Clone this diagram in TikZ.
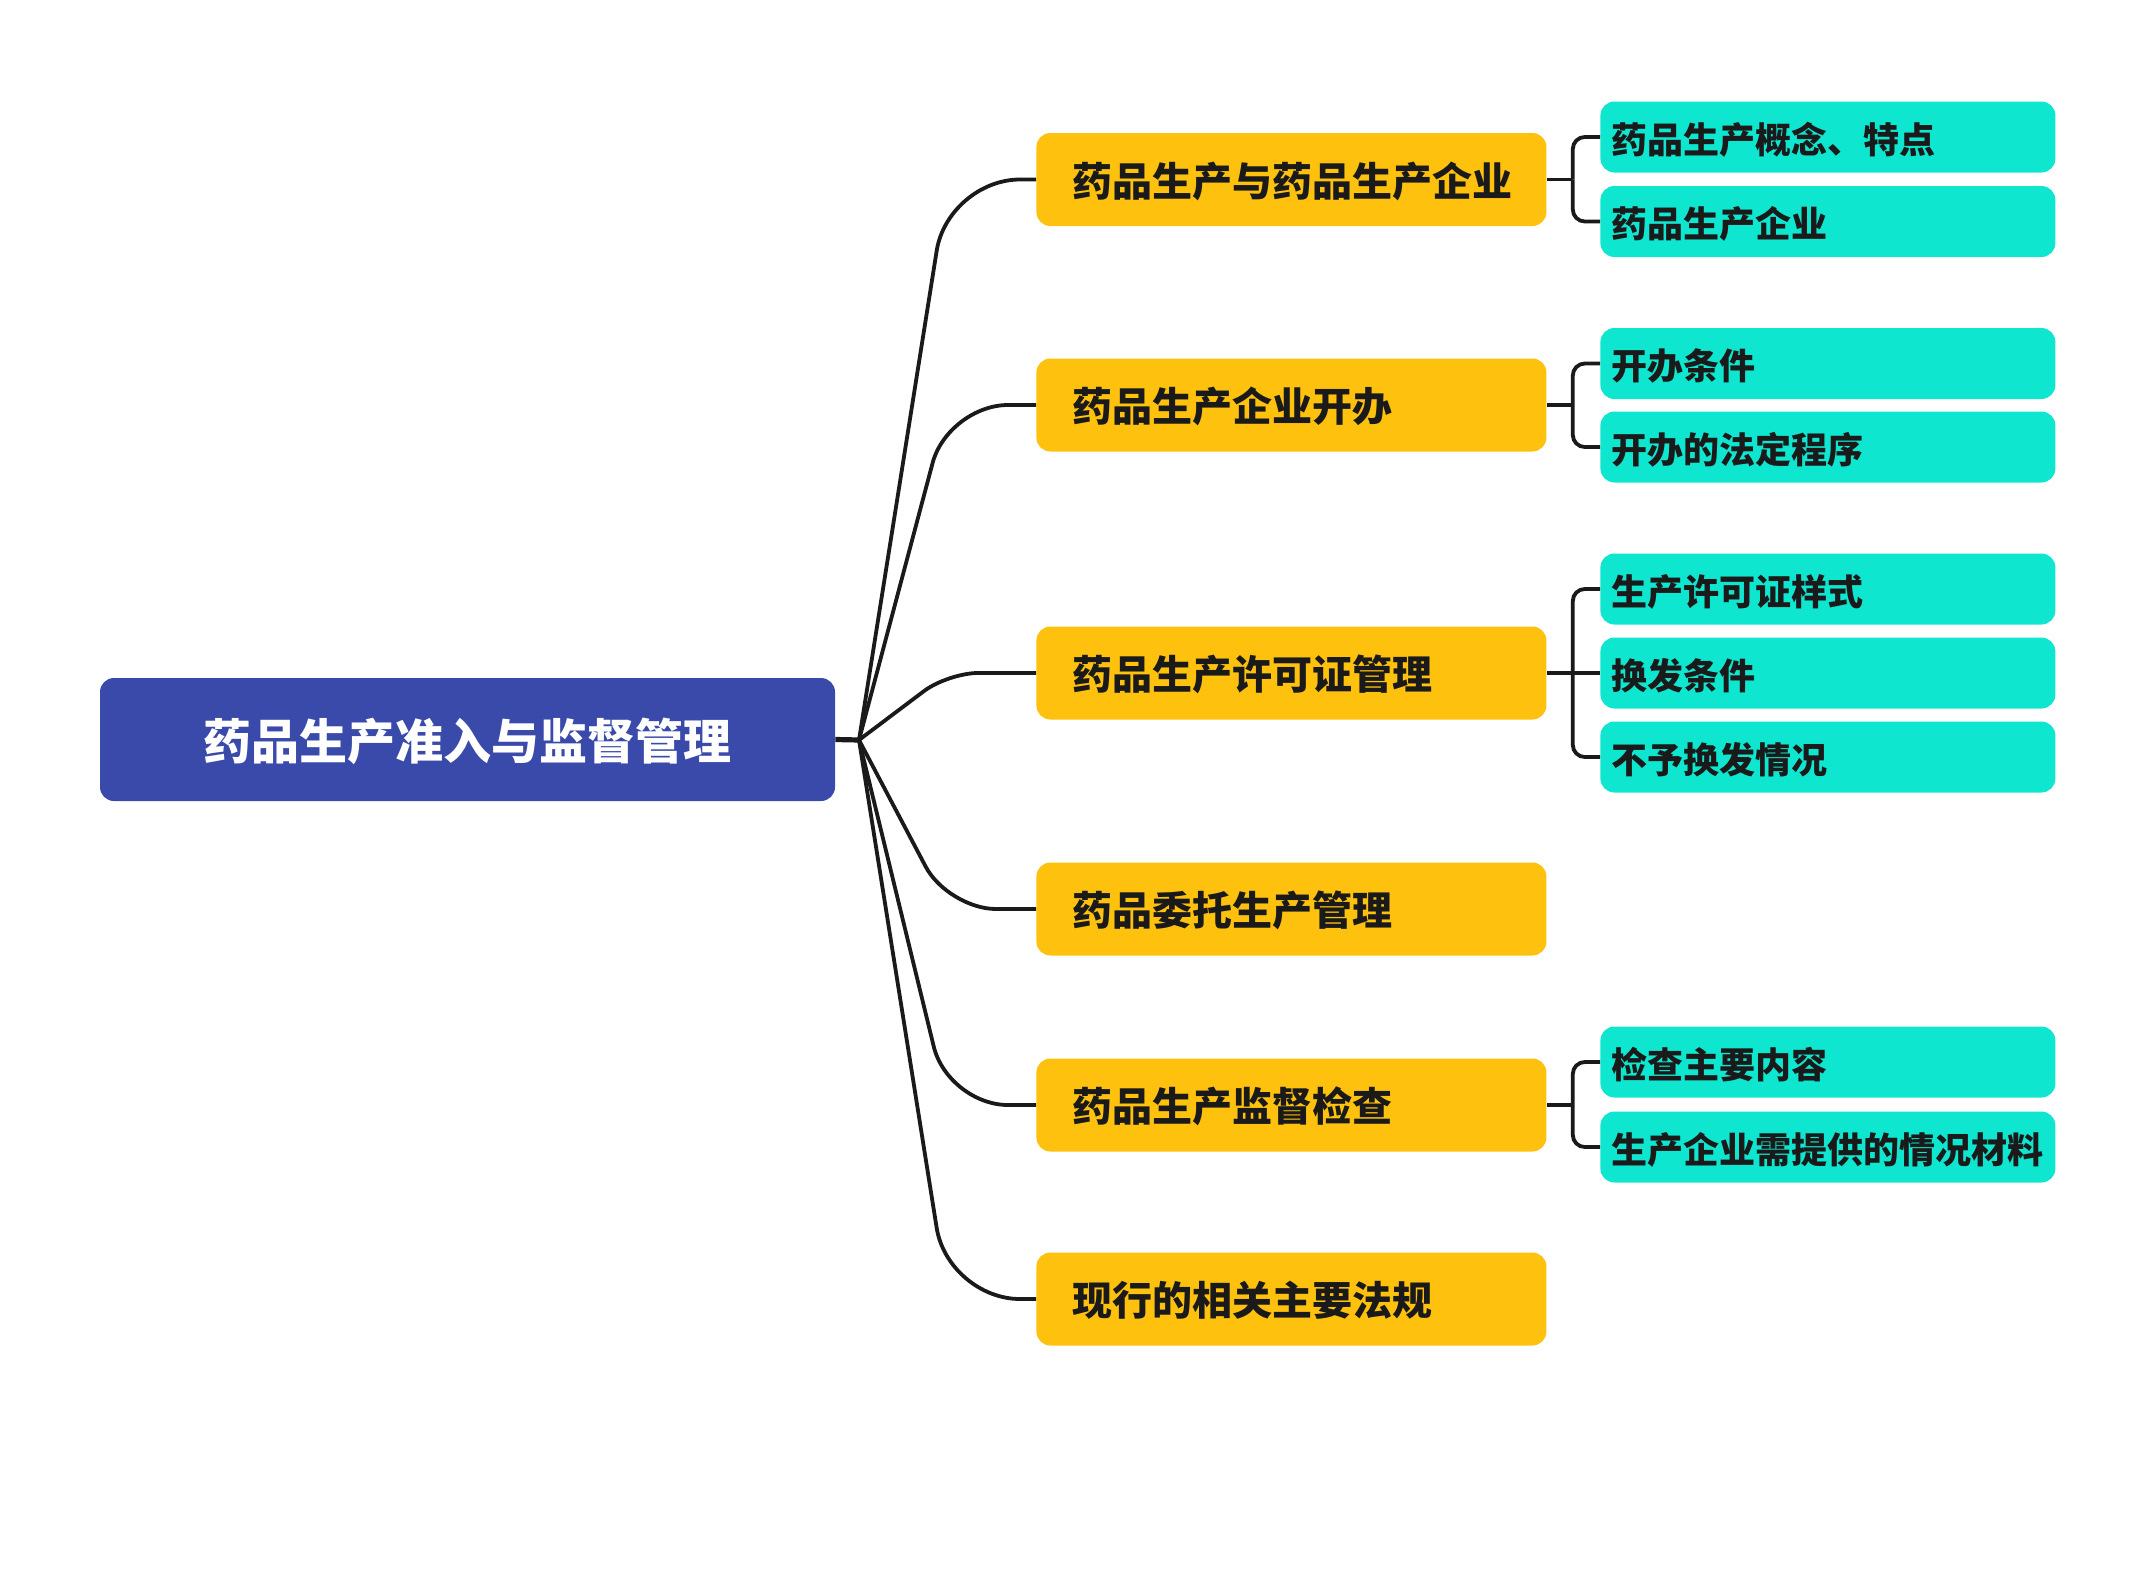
\documentclass[tikz,border=0pt]{standalone}
\usepackage{fontspec}
\setmainfont{Noto Sans CJK SC}
\usetikzlibrary{calc}
\definecolor{rootblue}{HTML}{3A4AAA}
\definecolor{yel}{HTML}{FEC10E}
\definecolor{tealbox}{HTML}{0FE6D0}
\definecolor{ink}{HTML}{1A1A1A}
\tikzset{
  rootnode/.style={fill=rootblue, rounded corners=7pt, minimum width=367.5pt, minimum height=61.5pt,
    inner sep=0pt, text=white, font=\bfseries\fontsize{24pt}{24pt}\selectfont,
    text height=22.6pt, text depth=2.9pt},
  lone/.style={fill=yel, rounded corners=7pt, anchor=west, minimum height=46.5pt,
    text width=219pt, inner xsep=18pt, inner ysep=0pt, align=left, text=ink,
    font=\bfseries\fontsize{20pt}{20pt}\selectfont, text height=19.1pt, text depth=2.4pt},
  ltwo/.style={fill=tealbox, rounded corners=7pt, anchor=west, minimum height=35.5pt,
    text width=216pt, inner xsep=5.75pt, inner ysep=0pt, align=left, text=ink,
    font=\bfseries\fontsize{18pt}{18pt}\selectfont, text height=18.3pt, text depth=2.2pt},
  conn/.style={draw=ink, line width=1.9pt},
  rootline/.style={draw=ink, line width=2.6pt},
}
\begin{document}
\begin{tikzpicture}[x=0.5pt,y=-0.5pt]
\useasboundingbox (0,0) rectangle (2144,1585);

\node[rootnode] (root) at (467.5,739.5) {药品生产准入与监督管理};

\node[lone] (n1) at (1036,179.5) {药品生产与药品生产企业};
\node[lone] (n2) at (1036,405) {药品生产企业开办};
\node[lone] (n3) at (1036,673) {药品生产许可证管理};
\node[lone] (n4) at (1036,909) {药品委托生产管理};
\node[lone] (n5) at (1036,1105) {药品生产监督检查};
\node[lone] (n6) at (1036,1299) {现行的相关主要法规};

\node[ltwo] (t11) at (1600,137) {药品生产概念、特点};
\node[ltwo] (t12) at (1600,221.5) {药品生产企业};
\node[ltwo] (t21) at (1600,363.5) {开办条件};
\node[ltwo] (t22) at (1600,447) {开办的法定程序};
\node[ltwo] (t31) at (1600,589) {生产许可证样式};
\node[ltwo] (t32) at (1600,673) {换发条件};
\node[ltwo] (t33) at (1600,757) {不予换发情况};
\node[ltwo] (t51) at (1600,1062) {检查主要内容};
\node[ltwo] (t52) at (1600,1147) {生产企业需提供的情况材料};

\coordinate (J) at (859,740);
\draw[rootline] (root.east) -- (J);
\draw[conn, rounded corners=36pt] (J) -- ($(n1.west)+(-88,0)$) -- (n1.west);
\draw[conn, rounded corners=30pt] (J) -- ($(n2.west)+(-88,0)$) -- (n2.west);
\draw[conn, rounded corners=15pt] (J) -- ($(n3.west)+(-88,0)$) -- (n3.west);
\draw[conn, rounded corners=24pt] (J) -- ($(n4.west)+(-88,0)$) -- (n4.west);
\draw[conn, rounded corners=30pt] (J) -- ($(n5.west)+(-88,0)$) -- (n5.west);
\draw[conn, rounded corners=36pt] (J) -- ($(n6.west)+(-88,0)$) -- (n6.west);

\coordinate (b1) at ($(n1.east)+(26,0)$);
\coordinate (b2) at ($(n2.east)+(26,0)$);
\coordinate (b3) at ($(n3.east)+(26,0)$);
\coordinate (b5) at ($(n5.east)+(26,0)$);

\draw[conn] (n1.east) -- (b1);
\draw[conn, rounded corners=6pt] (b1) -- (b1 |- t11.west) -- (t11.west);
\draw[conn, rounded corners=6pt] (b1) -- (b1 |- t12.west) -- (t12.west);

\draw[conn] (n2.east) -- (b2);
\draw[conn, rounded corners=6pt] (b2) -- (b2 |- t21.west) -- (t21.west);
\draw[conn, rounded corners=6pt] (b2) -- (b2 |- t22.west) -- (t22.west);

\draw[conn] (n3.east) -- (b3);
\draw[conn, rounded corners=6pt] (b3) -- (b3 |- t31.west) -- (t31.west);
\draw[conn] (b3) -- (t32.west);
\draw[conn, rounded corners=6pt] (b3) -- (b3 |- t33.west) -- (t33.west);

\draw[conn] (n5.east) -- (b5);
\draw[conn, rounded corners=6pt] (b5) -- (b5 |- t51.west) -- (t51.west);
\draw[conn, rounded corners=6pt] (b5) -- (b5 |- t52.west) -- (t52.west);
\end{tikzpicture}
\end{document}
